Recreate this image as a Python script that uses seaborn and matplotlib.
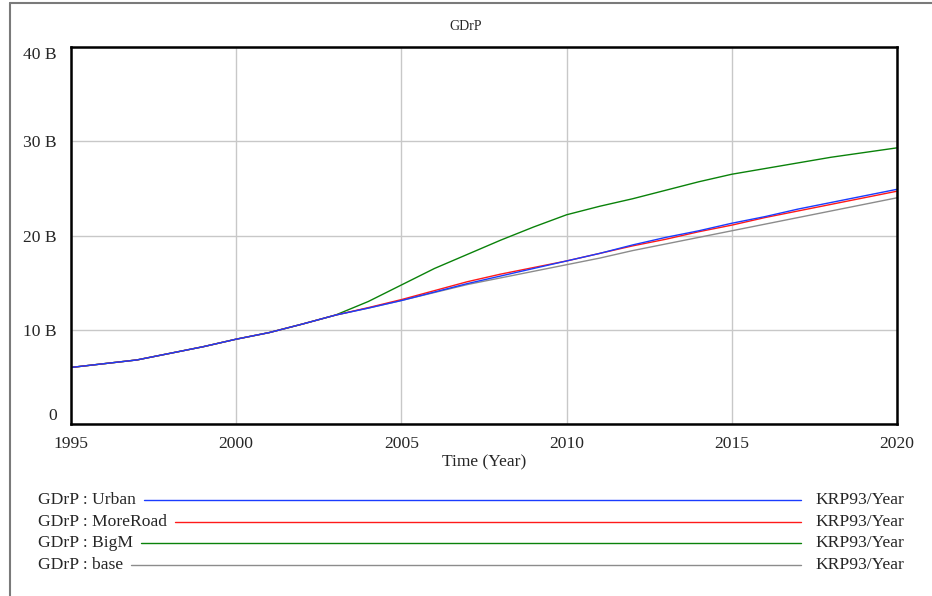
import numpy as np
import pandas as pd
import matplotlib
matplotlib.use("Agg")
import matplotlib.pyplot as plt
from matplotlib.lines import Line2D
import seaborn as sns

# Simulation years and GDrP per scenario (billions)
years = list(range(1995, 2021))
urban = [6.0, 6.4, 6.8, 7.5, 8.2, 9.0, 9.7, 10.6, 11.55, 12.3, 13.1, 14.0, 14.9, 15.7,
         16.5, 17.3, 18.1, 19.0, 19.8, 20.5, 21.3, 22.0, 22.8, 23.5, 24.2, 24.9]
more_road = [6.0, 6.4, 6.8, 7.5, 8.2, 9.0, 9.7, 10.6, 11.55, 12.35, 13.2, 14.15, 15.1, 15.9,
             16.6, 17.3, 18.1, 18.9, 19.6, 20.4, 21.1, 21.9, 22.6, 23.3, 24.0, 24.7]
big_m = [6.0, 6.4, 6.8, 7.5, 8.2, 9.0, 9.7, 10.6, 11.55, 13.0, 14.75, 16.5, 18.0, 19.5,
         20.9, 22.2, 23.1, 23.9, 24.8, 25.7, 26.5, 27.1, 27.7, 28.3, 28.8, 29.3]
base = [6.0, 6.4, 6.8, 7.5, 8.2, 9.0, 9.7, 10.6, 11.55, 12.3, 13.1, 13.95, 14.8, 15.5,
        16.2, 16.9, 17.6, 18.4, 19.1, 19.8, 20.5, 21.2, 21.9, 22.6, 23.3, 24.0]

scenarios = ["Urban", "MoreRoad", "BigM", "base"]
series = {"Urban": urban, "MoreRoad": more_road, "BigM": big_m, "base": base}
colors = {"Urban": "#1a3cff", "MoreRoad": "#ff1a1a", "BigM": "#0a820a", "base": "#8c8c8c"}
unit_label = "KRP93/Year"
x_ticks = [1995, 2000, 2005, 2010, 2015, 2020]
y_ticks = [0, 10, 20, 30, 40]
y_tick_labels = ["0", "10 B", "20 B", "30 B", "40 B"]

df = pd.concat(
    [pd.DataFrame({"Time": years, "GDrP": series[s], "run": s}) for s in scenarios],
    ignore_index=True,
)

sns.set_style("white")
plt.rcParams["font.family"] = ["Liberation Serif", "DejaVu Serif"]

FS = 12.6
W, H = 932, 596
fig = plt.figure(figsize=(W / 100, H / 100), dpi=100)
ax = fig.add_axes([71 / W, 1 - 424 / H, 826 / W, 377 / H])

sns.lineplot(data=df, x="Time", y="GDrP", hue="run",
             hue_order=["base", "BigM", "MoreRoad", "Urban"],
             palette=colors, linewidth=1.0, legend=False, ax=ax)

ax.set_xlim(1995, 2020)
ax.set_ylim(0, 40)
ax.set_xticks(x_ticks)
ax.set_xticklabels([str(t) for t in x_ticks], fontsize=FS)
ax.set_yticks(y_ticks)
ax.set_yticklabels(y_tick_labels, fontsize=FS)
ax.grid(True, color="#c8c8c8", linewidth=1.0)
ax.set_axisbelow(True)
ax.tick_params(axis="both", length=0)
ax.tick_params(axis="x", pad=9)
ax.tick_params(axis="y", pad=10)
for sp in ax.spines.values():
    sp.set_visible(True)
    sp.set_color("black")
    sp.set_linewidth(1.8)

ylabels = ax.get_yticklabels()
ylabels[0].set_va("bottom")
ylabels[-1].set_va("top")

ax.set_ylabel("")
ax.set_xlabel("Time (Year)", fontsize=FS)
ax.xaxis.set_label_coords(0.5, (424 - 462) / 377)
ax.xaxis.label.set_va("center")

fig.text(0.5, 1 - 26 / H, "GDrP", ha="center", va="center", fontsize=10)

# outer panel edges
fig.add_artist(Line2D([10 / W, 10 / W], [0, 1 - 3 / H], transform=fig.transFigure,
                      color="#7a7a7a", linewidth=1.5))
fig.add_artist(Line2D([10 / W, 1], [1 - 3 / H, 1 - 3 / H], transform=fig.transFigure,
                      color="#7a7a7a", linewidth=1.5))

# legend rows: label, colored line, units
row_y = [500, 521.5, 543, 565]
labels = []
for s, yy in zip(scenarios, row_y):
    t = fig.text(38 / W, 1 - yy / H, f"GDrP : {s}", ha="left", va="center", fontsize=FS)
    fig.text(815 / W, 1 - yy / H, unit_label, ha="left", va="center", fontsize=FS)
    labels.append((s, yy, t))

fig.canvas.draw()
renderer = fig.canvas.get_renderer()
for s, yy, t in labels:
    bb = t.get_window_extent(renderer)
    x0 = (bb.x1 + 8) / W
    fig.add_artist(Line2D([x0, 801 / W], [1 - yy / H, 1 - yy / H], transform=fig.transFigure,
                          color=colors[s], linewidth=1.0))

fig.savefig("out.png", dpi=100)
